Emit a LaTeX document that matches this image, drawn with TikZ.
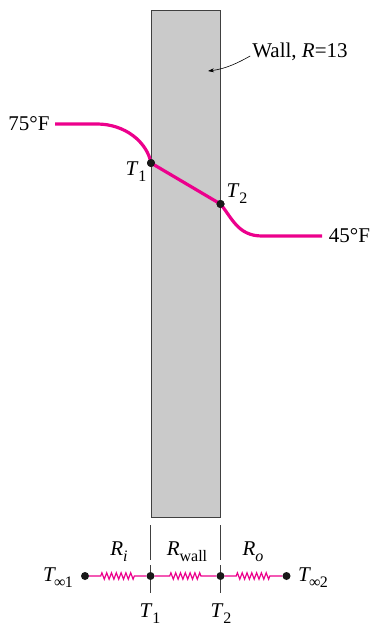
\documentclass[tikz,border=0pt]{standalone}
\usepackage{fontspec}
\setmainfont{Liberation Serif}
\usetikzlibrary{decorations.pathmorphing,arrows.meta}
\definecolor{tempred}{HTML}{EC008C}
\definecolor{wallgray}{HTML}{CACACA}
\newcommand{\sublabel}[2]{\textit{#1}\raisebox{-0.28em}{\fontsize{16}{18}\selectfont #2}}
\tikzset{
  lab/.style={inner sep=0pt,font=\fontsize{21}{23}\selectfont},
  dot/.style={circle,fill=black!90,inner sep=0pt,minimum size=8pt},
  tempcurve/.style={line width=3.2pt,tempred},
  wire/.style={line width=1.2pt,tempred},
  resistor/.style={wire,decorate,decoration={zigzag,segment length=4.8pt,amplitude=3.2pt,pre length=#1,post length=#1}},
  tick/.style={line width=0.9pt,black!75}
}
\begin{document}
\begin{tikzpicture}[x=1pt,y=-1pt]
  \useasboundingbox (0,0) rectangle (370,626);
  % Wall
  \draw[fill=wallgray,draw=black!75,line width=0.9pt] (151,10) rectangle (220.5,517);
  % Temperature profile
  \coordinate (start) at (55,124);
  \coordinate (end) at (322,236);
  \node[dot] (wallA) at (151,163) {};
  \node[dot] (wallB) at (220.5,204) {};
  \draw[tempcurve] (start) -- (97,124) .. controls (125,124) and (147,142) .. (wallA.center);
  \draw[tempcurve] (wallA.center) -- (wallB.center);
  \draw[tempcurve] (wallB.center) .. controls (232,218) and (238,236) .. (262,236) -- (end);
  \node[dot] at (wallA) {};
  \node[dot] at (wallB) {};
  \node[lab] (hot) at (29,124) {75°F};
  \node[lab] (cold) at (349.5,236) {45°F};
  \node[lab] (labA) at (136,172) {\sublabel{T}{1}};
  \node[lab] (labB) at (237,194) {\sublabel{T}{2}};
  % Wall label
  \node[lab] (wall) at (300,52) {Wall, \textit{R}=13};
  \coordinate (wallpt) at (208,71);
  \draw[-{Stealth[length=6pt,width=4pt]},line width=0.6pt] (wall.west) ++(-2,4) .. controls (238,63) and (225,69) .. (wallpt);
  % Ticks
  \coordinate (tickAa) at (150.5,525);
  \coordinate (tickAb) at (150.5,560);
  \coordinate (tickAc) at (150.5,565);
  \coordinate (tickAd) at (150.5,593);
  \coordinate (tickBa) at (220.5,525);
  \coordinate (tickBb) at (220.5,560);
  \coordinate (tickBc) at (220.5,565);
  \coordinate (tickBd) at (220.5,593);
  \draw[tick] (tickAa) -- (tickAb);
  \draw[tick] (tickAc) -- (tickAd);
  \draw[tick] (tickBa) -- (tickBb);
  \draw[tick] (tickBc) -- (tickBd);
  % Resistance network
  \node[dot] (n0) at (85,576) {};
  \node[dot] (n1) at (150.5,576) {};
  \node[dot] (n2) at (220.5,576) {};
  \node[dot] (n3) at (286.5,576) {};
  \draw[resistor=11.5pt] (n0) -- (n1);
  \draw[resistor=15pt] (n1) -- (n2);
  \draw[resistor=11.5pt] (n2) -- (n3);
  \node[lab] (Ri) at (119,552) {\sublabel{R}{\textit{i}}};
  \node[lab] (Rw) at (187,552) {\sublabel{R}{wall}};
  \node[lab] (Ro) at (253,552) {\sublabel{R}{\textit{o}}};
  \node[lab] (Tinf1) at (58,578) {\sublabel{T}{\kern-2pt ∞\kern-0.5pt 1}};
  \node[lab] (Tinf2) at (313,578) {\sublabel{T}{\kern-2pt ∞\kern-0.5pt 2}};
  \node[lab] (T1) at (150,614) {\sublabel{T}{1}};
  \node[lab] (T2) at (221,614) {\sublabel{T}{2}};
\end{tikzpicture}
\end{document}
